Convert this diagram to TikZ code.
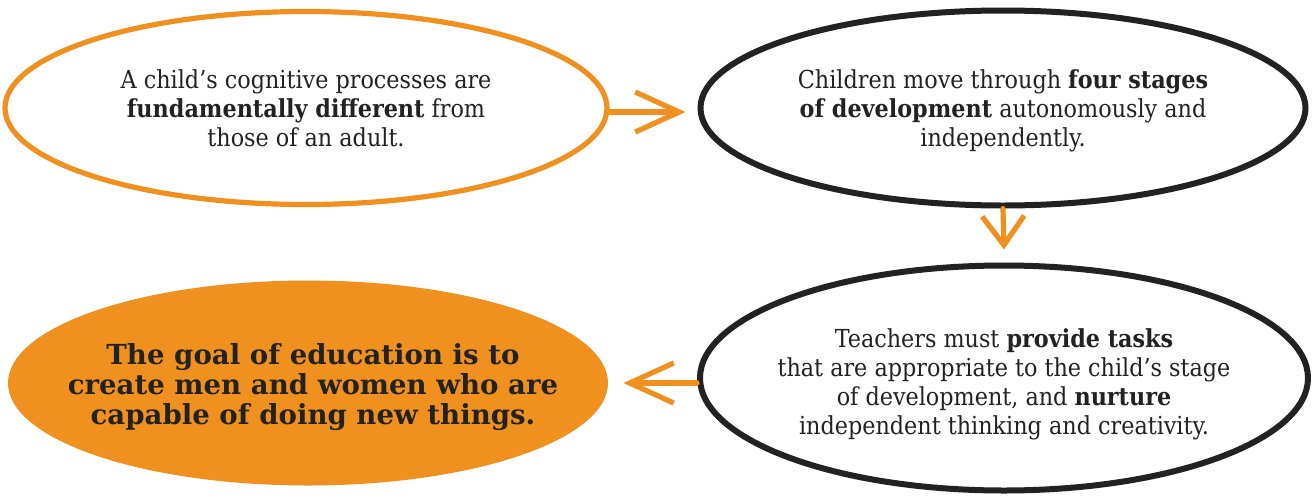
\documentclass[tikz,border=0pt]{standalone}
\usepackage{fontspec}
\setmainfont{DejaVu Serif Condensed}
\newfontfamily\goalfont{DejaVu Serif}
\usetikzlibrary{shapes.geometric,arrows.meta}
\definecolor{orng}{HTML}{F0901E}
\definecolor{ink}{HTML}{222222}
\begin{document}
\begin{tikzpicture}[x=0.5pt,y=-0.5pt,
  oval/.style={ellipse, inner sep=0pt},
  orangeoval/.style={oval, draw=orng, line width=2.6pt},
  blackoval/.style={oval, draw=ink, line width=3pt},
  goaloval/.style={oval, fill=orng},
  txt/.style={align=center, text=ink, font=\fontsize{12.4}{14.5}\selectfont},
  goaltxt/.style={align=center, text=ink, font=\goalfont\bfseries\fontsize{13.8}{15}\selectfont},
  flow/.style={draw=orng, line width=2.6pt, line cap=round, line join=round}
]
\useasboundingbox (0,0) rectangle (1314,499);
\fill[white] (0,0) rectangle (1314,499);

\node[orangeoval, minimum width=301pt, minimum height=96.5pt] (e1) at (306,108) {};
\node[blackoval, minimum width=302.5pt, minimum height=97.5pt] (e2) at (1003,108) {};
\node[blackoval, minimum width=304pt, minimum height=112.5pt] (e3) at (1004,378) {};
\node[goaloval, minimum width=300pt, minimum height=102.5pt] (e4) at (308,383) {};

\node[txt] (t1) at (e1.center) {A child's cognitive processes are\\\textbf{fundamentally different} from\\those of an adult.};
\node[txt] (t2) at ([yshift=-1.5pt]e2.center) {Children move through \textbf{four stages}\\\textbf{of development} autonomously and\\independently.};
\node[txt] (t3) at ([yshift=-3pt]e3.center) {Teachers must \textbf{provide tasks}\\that are appropriate to the child's stage\\of development, and \textbf{nurture}\\independent thinking and creativity.};
\node[goaltxt] (t4) at ([xshift=2.5pt,yshift=-2pt]e4.center) {The goal of education is to\\create men and women who are\\capable of doing new things.};

\draw[flow, -{Straight Barb[length=22pt,width=20pt]}] ([yshift=-2pt]e1.east) -- ([xshift=-6pt,yshift=-2pt]e2.west);
\draw[flow, -{Straight Barb[length=14.5pt,width=21pt]}] (e2.south) -- ([yshift=6.5pt]e3.north);
\draw[flow, -{Straight Barb[length=22pt,width=20pt]}] (e3.west |- e4.east) -- ([xshift=7.5pt]e4.east);
\end{tikzpicture}
\end{document}
